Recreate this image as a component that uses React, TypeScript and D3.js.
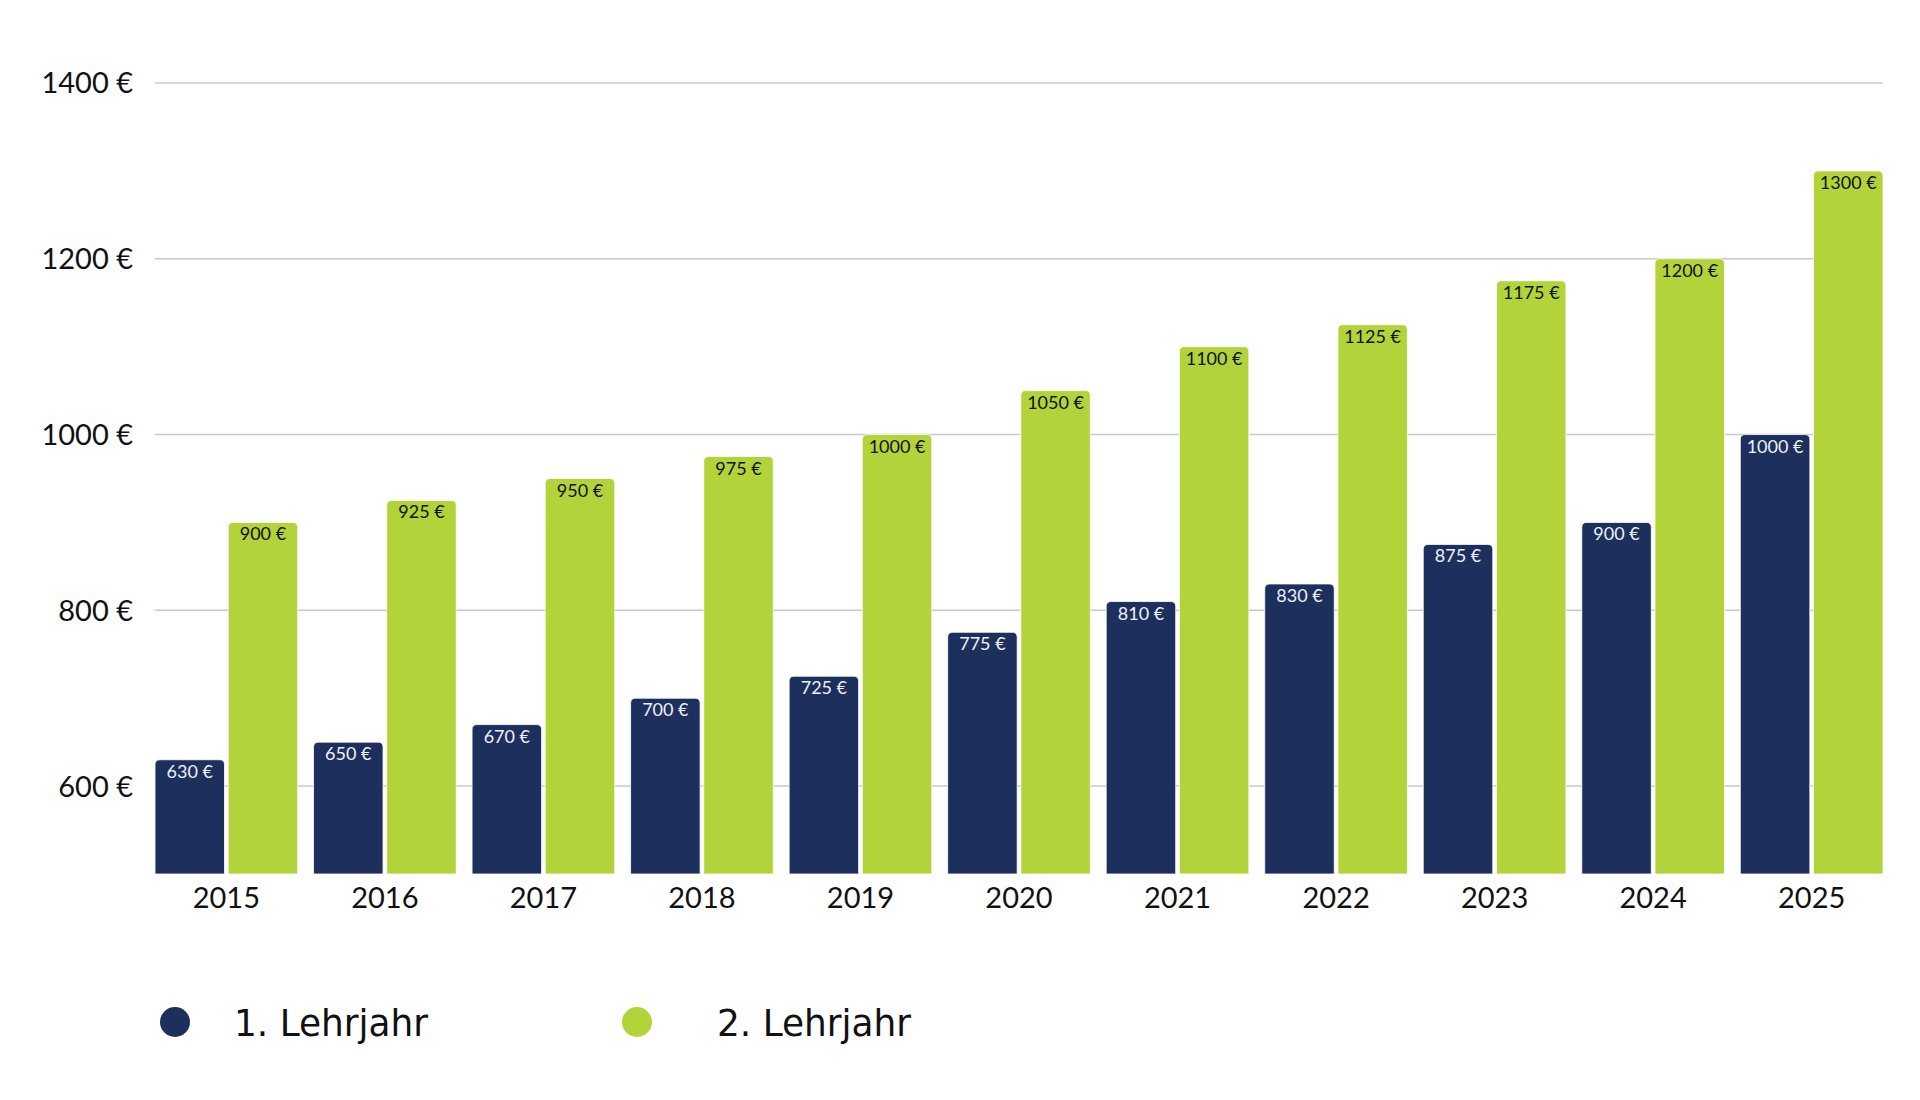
import React, { useEffect, useRef } from "react";
import * as d3 from "d3";

// Chart data
const YEARS = ["2015", "2016", "2017", "2018", "2019", "2020", "2021", "2022", "2023", "2024", "2025"];
const FIRST_YEAR = [630, 650, 670, 700, 725, 775, 810, 830, 875, 900, 1000];
const SECOND_YEAR = [900, 925, 950, 975, 1000, 1050, 1100, 1125, 1175, 1200, 1300];
const SERIES_NAMES = ["1. Lehrjahr", "2. Lehrjahr"];
const Y_TICKS = [600, 800, 1000, 1200, 1400];

const NAVY = "#1d2f5d";
const GREEN = "#b3d33b";
const FONT = "Lato, 'Open Sans', sans-serif";

const W = 1920;
const H = 1100;

// path for a bar with rounded top corners only
function topRoundedRect(x: number, y: number, w: number, h: number, r: number) {
  const rr = Math.min(r, w / 2, h);
  return `M${x},${y + h}V${y + rr}Q${x},${y} ${x + rr},${y}H${x + w - rr}Q${x + w},${y} ${x + w},${y + rr}V${y + h}Z`;
}

export default function App() {
  const svgRef = useRef<SVGSVGElement>(null);

  useEffect(() => {
    if (!svgRef.current) return;
    const svg = d3.select(svgRef.current);
    svg.selectAll("*").remove();

    const left = 155;
    const right = 1883;
    const top = 83;
    const bottom = 874;

    const x0 = d3.scaleBand<string>().domain(YEARS).range([left, right]).paddingInner(0.1).paddingOuter(0);
    const x1 = d3.scaleBand<number>().domain([0, 1]).range([0, x0.bandwidth()]).paddingInner(0.05);
    const y = d3.scaleLinear().domain([500, 1400]).range([bottom, top]);

    // gridlines
    svg
      .append("g")
      .selectAll("line")
      .data(Y_TICKS)
      .join("line")
      .attr("x1", left)
      .attr("x2", right)
      .attr("y1", (d) => y(d))
      .attr("y2", (d) => y(d))
      .attr("stroke", "#cacaca")
      .attr("stroke-width", 1.5);

    // y tick labels
    svg
      .append("g")
      .selectAll("text")
      .data(Y_TICKS)
      .join("text")
      .attr("x", 133)
      .attr("y", (d) => y(d))
      .attr("dy", "0.36em")
      .attr("text-anchor", "end")
      .attr("font-family", FONT)
      .attr("font-size", 29)
      .attr("fill", "#111")
      .text((d) => `${d} €`);

    const rows = YEARS.map((yr, i) => ({ yr, vals: [FIRST_YEAR[i], SECOND_YEAR[i]] }));

    const groups = svg
      .append("g")
      .selectAll("g")
      .data(rows)
      .join("g")
      .attr("transform", (d) => `translate(${x0(d.yr)},0)`);

    groups
      .selectAll("path")
      .data((d) => d.vals.map((v, k) => ({ v, k })))
      .join("path")
      .attr("d", (d) =>
        topRoundedRect(x1(d.k)!, y(d.v), x1.bandwidth(), bottom - y(d.v), 5)
      )
      .attr("fill", (d) => (d.k === 0 ? NAVY : GREEN))
      .attr("stroke", "#fff")
      .attr("stroke-width", 0.8);

    groups
      .selectAll("text.val")
      .data((d) => d.vals.map((v, k) => ({ v, k })))
      .join("text")
      .attr("class", "val")
      .attr("x", (d) => x1(d.k)! + x1.bandwidth() / 2)
      .attr("y", (d) => y(d.v) + 18)
      .attr("text-anchor", "middle")
      .attr("font-family", FONT)
      .attr("font-size", 18)
      .attr("fill", (d) => (d.k === 0 ? "#eef1f7" : "#111"))
      .text((d) => `${d.v} €`);

    // x labels
    svg
      .append("g")
      .selectAll("text")
      .data(YEARS)
      .join("text")
      .attr("x", (d) => x0(d)! + x0.bandwidth() / 2)
      .attr("y", 908)
      .attr("text-anchor", "middle")
      .attr("font-family", FONT)
      .attr("font-size", 29)
      .attr("fill", "#111")
      .text((d) => d);

    // legend
    const legendX = [175, 637];
    const legend = svg
      .append("g")
      .selectAll("g")
      .data(SERIES_NAMES)
      .join("g")
      .attr("transform", (_d, i) => `translate(${legendX[i]},1022)`);

    legend
      .append("circle")
      .attr("r", 15)
      .attr("fill", (_d, i) => (i === 0 ? NAVY : GREEN));

    legend
      .append("text")
      .attr("x", (_d, i) => (i === 0 ? 59 : 80))
      .attr("dy", "0.36em")
      .attr("font-family", "'Liberation Sans Narrow', 'DejaVu Sans Condensed', Roboto, sans-serif")
      .attr("font-size", 38)
      .attr("textLength", 194)
      .attr("lengthAdjust", "spacingAndGlyphs")
      .attr("fill", "#111")
      .text((d) => d);
  }, []);

  return (
    <svg
      ref={svgRef}
      width={W}
      height={H}
      style={{ position: "absolute", left: 0, top: 0, background: "#fff" }}
    />
  );
}
